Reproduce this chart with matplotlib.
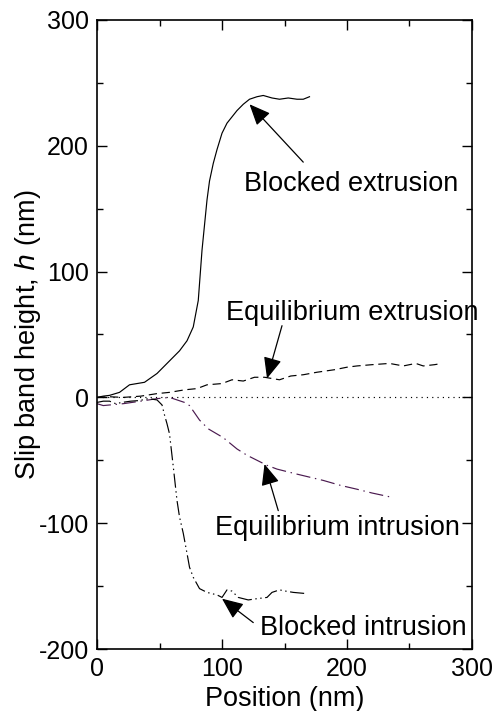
import matplotlib
matplotlib.use("Agg")
import matplotlib.pyplot as plt
from matplotlib.ticker import MultipleLocator

plt.rcParams['font.family'] = ['Liberation Sans', 'DejaVu Sans']
plt.rcParams['axes.unicode_minus'] = False

# Blocked extrusion (solid)
be_x = [0, 5, 10, 18, 26, 38, 48, 58, 66, 72, 77, 81, 84, 88, 90, 93, 96, 100, 104, 108, 112, 117, 122, 128, 133, 140, 146, 153, 160, 165, 170]
be_y = [0, 1, 1.6, 4, 10, 12, 19, 29, 37, 45, 56, 77, 117, 157, 172, 186, 197, 210, 218, 223, 228, 233, 237, 239, 240, 238, 237, 238, 237, 237, 239]

# Equilibrium extrusion (dashed)
ee_x = [0, 10, 21, 35, 48, 58, 70, 80, 88, 100, 108, 117, 126, 134, 140, 146, 155, 165, 176, 190, 200, 208, 220, 234, 245, 255, 261, 270, 276]
ee_y = [0, 0.5, 0, 1, 3, 4, 6, 7, 10, 11, 14, 13, 16, 16, 15, 14, 17, 18, 20, 22, 24, 25, 26, 27, 25, 27, 25, 26, 27]

# Equilibrium intrusion (dash-dot, purple)
ei_x = [0, 5, 21, 35, 48, 58, 64, 70, 74, 82, 89, 101, 112, 120, 128, 136, 144, 160, 181, 195, 208, 220, 234]
ei_y = [-5, -6.5, -5, -3, -1, 0, -2, -4, -6.5, -18, -25, -32, -41, -46, -50, -54, -57, -61, -66, -70, -73, -76, -79]

# Blocked intrusion (dash-dot-dot)
bi_x = [0, 5, 10, 15, 20, 27, 34, 41, 48, 52, 54, 56, 58, 61, 64, 66, 69, 72, 74, 77, 82, 88, 96, 100, 104, 108, 113, 121, 128, 136, 140, 146, 151, 157, 168]
bi_y = [-4, -3, -3, -5, -4, -3, -2.5, -1, -2, -6, -14, -21, -29, -55, -82, -95, -108, -124, -135, -143, -152, -155, -157, -159, -153, -154, -159, -161, -160, -159, -155, -153, -154, -155, -156]

zero_x = [0, 300]
zero_y = [0, 0]

# annotations: label, text position, arrow tail, arrow head
ann_labels = ["Blocked extrusion", "Equilibrium extrusion", "Equilibrium intrusion", "Blocked intrusion"]
ann_text = [(203, 170), (204, 67), (192, -104), (213, -183)]
ann_tail = [(165, 187), (148, 57), (145, -90), (125, -179)]
ann_head = [(122, 233), (136, 15), (134, -53), (100, -160)]

fig = plt.figure(figsize=(4.96, 7.11), dpi=100)
ax = fig.add_axes([0.1956, 0.0872, 0.9516 - 0.1956, 0.9719 - 0.0872])

lw = 0.85
ax.plot(zero_x, zero_y, color='k', lw=lw, linestyle=(0, (1, 3.5)))
ax.plot(be_x, be_y, color='k', lw=lw, linestyle='-')
ax.plot(ee_x, ee_y, color='k', lw=lw, linestyle=(0, (7, 4)))
ax.plot(ei_x, ei_y, color='#4a1a4f', lw=lw, linestyle=(0, (12, 4, 1.2, 4)))
ax.plot(bi_x, bi_y, color='k', lw=lw, linestyle=(0, (12, 3, 1.2, 3, 1.2, 3)))

for lab, tp, tl, hd in zip(ann_labels, ann_text, ann_tail, ann_head):
    ax.annotate('', xy=hd, xytext=tl,
                arrowprops=dict(arrowstyle='-|>,head_length=0.65,head_width=0.28', color='k', lw=0.9,
                                shrinkA=0, shrinkB=0, mutation_scale=20))
    ax.text(tp[0], tp[1], lab, ha='center', va='center', fontsize=19.5, clip_on=False)

ax.set_xlim(0, 300)
ax.set_ylim(-200, 300)
ax.xaxis.set_major_locator(MultipleLocator(100))
ax.xaxis.set_minor_locator(MultipleLocator(50))
ax.yaxis.set_major_locator(MultipleLocator(100))
ax.yaxis.set_minor_locator(MultipleLocator(50))
ax.tick_params(which='both', direction='in', top=True, right=True, width=1.0, labelsize=18)
ax.tick_params(which='major', length=7)
ax.tick_params(which='minor', length=4)
ax.tick_params(axis='y', pad=6)
ax.tick_params(axis='x', pad=6)
for s in ax.spines.values():
    s.set_linewidth(1.2)

ax.set_xlabel('Position (nm)', fontsize=19.5, labelpad=3)
ax.set_ylabel('Slip band height, $\\it{h}$ (nm)', fontsize=19.5, labelpad=-3)

fig.savefig('out.png', dpi=100)
